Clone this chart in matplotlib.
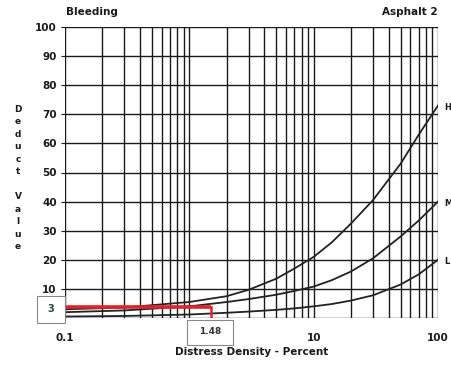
import matplotlib
matplotlib.use("Agg")
import matplotlib.pyplot as plt
from matplotlib.patches import Rectangle

# ---- data ----
density = [0.1, 0.3, 1, 2, 3, 5, 7, 10, 14, 20, 30, 50, 70, 100]
high = [3.0, 3.6, 5.5, 7.5, 9.7, 13.5, 17.0, 21.0, 26.0, 32.5, 40.5, 53.0, 63.0, 73.0]
medium = [2.0, 2.6, 4.0, 5.5, 6.5, 8.0, 9.3, 10.8, 13.0, 16.0, 20.5, 28.0, 33.5, 40.0]
low = [0.5, 0.7, 1.2, 1.8, 2.2, 2.8, 3.3, 4.0, 4.8, 6.0, 7.8, 11.5, 15.0, 20.0]
curve_names = ["H", "M", "L"]

reading_density = 1.48
reading_deduct = 3.8
reading_label_x = "1.48"
reading_label_y = "3"

x_ticks = [0.1, 10, 100]
x_tick_labels = ["0.1", "10", "100"]
y_ticks = [10, 20, 30, 40, 50, 60, 70, 80, 90, 100]

W, H = 452, 367
fig = plt.figure(figsize=(W / 100, H / 100), dpi=100)
fig.patch.set_facecolor("white")

L, R, T, B = 65, 438, 27, 318
ax = fig.add_axes([L / W, 1 - B / H, (R - L) / W, (B - T) / H])
ax.set_xscale("log")
ax.set_xlim(0.1, 100)
ax.set_ylim(0, 100)

# grid
for dec in [0.1, 1, 10]:
    for m in range(1, 10):
        ax.axvline(dec * m, color="#1a1a1a", lw=1.0, zorder=1)
ax.axvline(100, color="#1a1a1a", lw=1.0, zorder=1)
for yv in range(0, 101, 10):
    ax.axhline(yv, color="#1a1a1a", lw=1.0, zorder=1)

for s in ax.spines.values():
    s.set_visible(False)

for series in (high, medium, low):
    ax.plot(density, series, color="#222222", lw=1.3, zorder=3)

# red reading lines
ax.plot([0.1, reading_density], [reading_deduct, reading_deduct], color="#e4202a", lw=2.6, zorder=4, solid_capstyle="butt")
ax.plot([reading_density, reading_density], [reading_deduct, 0.5], color="#e4202a", lw=1.8, zorder=4)

ax.set_xticks(x_ticks)
ax.set_xticklabels(x_tick_labels)
ax.xaxis.set_minor_locator(matplotlib.ticker.NullLocator())
ax.set_yticks(y_ticks)
ax.tick_params(axis="x", length=0, pad=11, labelsize=7.5, colors="#1a1a1a")
ax.tick_params(axis="y", length=3, pad=3, labelsize=7.5, colors="#1a1a1a", width=0.8)
for lab in ax.get_xticklabels() + ax.get_yticklabels():
    lab.set_fontweight("bold")

ax.set_xlabel("Distress Density - Percent", fontsize=7.5, fontweight="bold", color="#1a1a1a", labelpad=3)

def fp(x, y):
    return x / W, 1 - y / H

fig.text(*fp(66, 12), "Bleeding", fontsize=7.5, fontweight="bold", color="#1a1a1a", ha="left", va="center")
fig.text(*fp(438, 12), "Asphalt 2", fontsize=7.5, fontweight="bold", color="#1a1a1a", ha="right", va="center")

fig.text(*fp(18, 178), "\n".join(list("Deduct")) + "\n\n" + "\n".join(list("Value")),
         fontsize=6.5, fontweight="bold", color="#1a1a1a", ha="center", va="center", linespacing=1.5)

# boxed readings
fig.patches.append(Rectangle((37 / W, 1 - 323 / H), 28 / W, 27 / H, transform=fig.transFigure,
                             facecolor="white", edgecolor="#888888", lw=0.8, zorder=5))
fig.text(*fp(51, 309), reading_label_y, fontsize=7, fontweight="bold", color="#2a4a4a", ha="center", va="center", zorder=6)
fig.patches.append(Rectangle((187 / W, 1 - 345 / H), 46 / W, 25 / H, transform=fig.transFigure,
                             facecolor="white", edgecolor="#888888", lw=0.8, zorder=5))
fig.text(*fp(210, 332), reading_label_x, fontsize=6.5, fontweight="bold", color="#333333", ha="center", va="center", zorder=6)

# curve tags at right edge
for name, series in zip(curve_names, (high, medium, low)):
    ypix = B - (B - T) * series[-1] / 100
    fig.text(*fp(444, ypix + 2), name, fontsize=6, fontweight="bold", color="#1a1a1a", ha="left", va="center")

fig.savefig("out.png", dpi=100)
